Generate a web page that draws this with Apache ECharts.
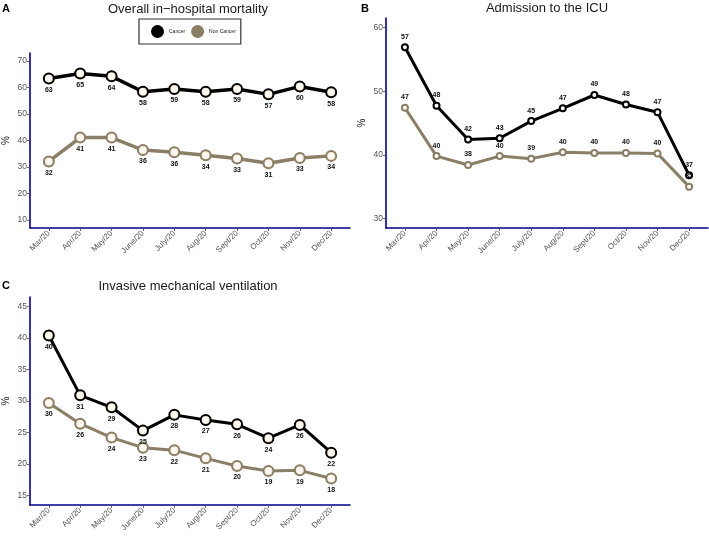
<!DOCTYPE html>
<html><head><meta charset="utf-8">
<script src="https://cdn.jsdelivr.net/npm/echarts@6/dist/echarts.min.js"></script>
<style>html,body{margin:0;padding:0;background:#fff}#c{width:709px;height:538px}</style>
</head><body><div id="c"></div>
<script>
const months = ['Mar/20','Apr/20','May/20','June/20','July/20','Aug/20','Sept/20','Oct/20','Nov/20','Dec/20'];
const mortalityCancer = [63.4, 65.3, 64.2, 58.4, 59.4, 58.4, 59.4, 57.4, 60.4, 58.2];
const mortalityNonCancer = [32.1, 41.1, 41.1, 36.4, 35.6, 34.4, 33.2, 31.4, 33.4, 34.2];
const icuCancer = [56.9, 47.7, 42.4, 42.6, 45.3, 47.3, 49.4, 47.9, 46.7, 36.8];
const icuNonCancer = [47.4, 39.8, 38.4, 39.8, 39.4, 40.4, 40.3, 40.3, 40.2, 35.0];
const ventCancer = [40.4, 30.9, 29.0, 25.3, 27.8, 27.0, 26.3, 24.1, 26.2, 21.8];
const ventNonCancer = [29.7, 26.4, 24.2, 22.6, 22.2, 20.9, 19.7, 18.9, 19.0, 17.7];
const ticksA = [10, 20, 30, 40, 50, 60, 70];
const ticksB = [30, 40, 50, 60];
const ticksC = [15, 20, 25, 30, 35, 40, 45];

const BLACK = '#000000', TAN = '#8B7E66', AXIS = '#00008B';
const idx = months.map((m, i) => i);
const pairs = arr => arr.map((v, i) => [i, v]);

const grids = [
  {left: 27, top: 53, width: 323, height: 175},
  {left: 386, top: 18, width: 322, height: 210},
  {left: 27, top: 297, width: 323, height: 208}
];

function xAxis(g) {
  return {
    type: 'value', gridIndex: g, min: -0.6, max: 9.6,
    splitLine: {show: false},
    axisLine: {show: true, onZero: false, lineStyle: {color: AXIS, width: 1.6}},
    axisTick: {show: true, length: 3, customValues: idx, lineStyle: {color: '#444', width: 0.8}},
    axisLabel: {customValues: idx, rotate: 45, fontSize: 8, color: '#555', margin: 4,
      fontFamily: 'Liberation Sans', formatter: v => months[Math.round(v)]}
  };
}
function yAxis(g, min, max, ticks) {
  return {
    type: 'value', gridIndex: g, min: min, max: max,
    name: '%', nameLocation: 'middle', nameGap: 19, nameRotate: 90,
    nameTextStyle: {fontSize: 10, color: '#222', fontFamily: 'Liberation Sans'},
    splitLine: {show: false},
    axisLine: {show: true, onZero: false, lineStyle: {color: AXIS, width: 1.6}},
    axisTick: {show: true, length: 3, customValues: ticks, lineStyle: {color: '#444', width: 0.8}},
    axisLabel: {customValues: ticks, fontSize: 8.5, color: '#555', margin: 3, fontFamily: 'Liberation Sans'}
  };
}
const bigFill = {type: 'radial', x: 0.5, y: 0.5, r: 0.5, colorStops: [
  {offset: 0, color: '#ffffff'}, {offset: 0.5, color: '#FCF6EC'}, {offset: 1, color: '#D6C2A2'}]};

function series(name, data, g, color, big, labelPos, lw) {
  return {
    name: name, type: 'line', xAxisIndex: g, yAxisIndex: g, data: pairs(data),
    symbol: 'circle', symbolSize: big ? 10 : 6,
    lineStyle: {color: color, width: lw},
    itemStyle: {color: big ? bigFill : '#ffffff', borderColor: color, borderWidth: 2},
    label: {show: true, position: labelPos, distance: big ? 2 : 3, fontSize: 7, fontWeight: 'bold',
      color: '#111', fontFamily: 'Liberation Sans', formatter: p => Math.round(p.value[1])},
    emphasis: {disabled: true}, animation: false
  };
}

const titleStyle = {fontSize: 13, fontWeight: 'normal', color: '#1a1a1a', fontFamily: 'Liberation Sans'};
const letterStyle = {fontSize: 11, fontWeight: 'bold', color: '#000', fontFamily: 'Liberation Sans'};

const chart = echarts.init(document.getElementById('c'));
chart.setOption({
  animation: false,
  backgroundColor: '#fff',
  grid: grids,
  title: [
    {text: 'Overall in\u2212hospital mortality', left: 188, top: 3, padding: 0, textAlign: 'center', textStyle: titleStyle},
    {text: 'Admission to the ICU', left: 547, top: 2, padding: 0, textAlign: 'center', textStyle: titleStyle},
    {text: 'Invasive mechanical ventilation', left: 188, top: 280, padding: 0, textAlign: 'center', textStyle: titleStyle},
    {text: 'A', left: 2, top: 3, padding: 0, textStyle: letterStyle},
    {text: 'B', left: 361, top: 3, padding: 0, textStyle: letterStyle},
    {text: 'C', left: 2, top: 280, padding: 0, textStyle: letterStyle}
  ],
  legend: {
    left: 139, top: 19, orient: 'horizontal',
    borderColor: '#333', borderWidth: 1.2, padding: [6, 5, 6, 12],
    itemWidth: 13, itemHeight: 13, itemGap: 6, icon: 'circle',
    textStyle: {fontSize: 5, color: '#222', fontFamily: 'Liberation Sans', padding: [0, 0, 0, 0]},
    data: [
      {name: 'Cancer', itemStyle: {color: BLACK, borderWidth: 0}},
      {name: 'Non Cancer', itemStyle: {color: TAN, borderWidth: 0}}
    ]
  },
  xAxis: [xAxis(0), xAxis(1), xAxis(2)],
  yAxis: [yAxis(0, 7, 73, ticksA), yAxis(1, 28.5, 61.5, ticksB), yAxis(2, 13.5, 46.5, ticksC)],
  series: [
    series('Non Cancer', mortalityNonCancer, 0, TAN, true, 'bottom', 3.5),
    series('Cancer', mortalityCancer, 0, BLACK, true, 'bottom', 3.5),
    series('Non Cancer', icuNonCancer, 1, TAN, false, 'top', 3),
    series('Cancer', icuCancer, 1, BLACK, false, 'top', 3),
    series('Non Cancer', ventNonCancer, 2, TAN, true, 'bottom', 3),
    series('Cancer', ventCancer, 2, BLACK, true, 'bottom', 3)
  ]
});
</script></body></html>
